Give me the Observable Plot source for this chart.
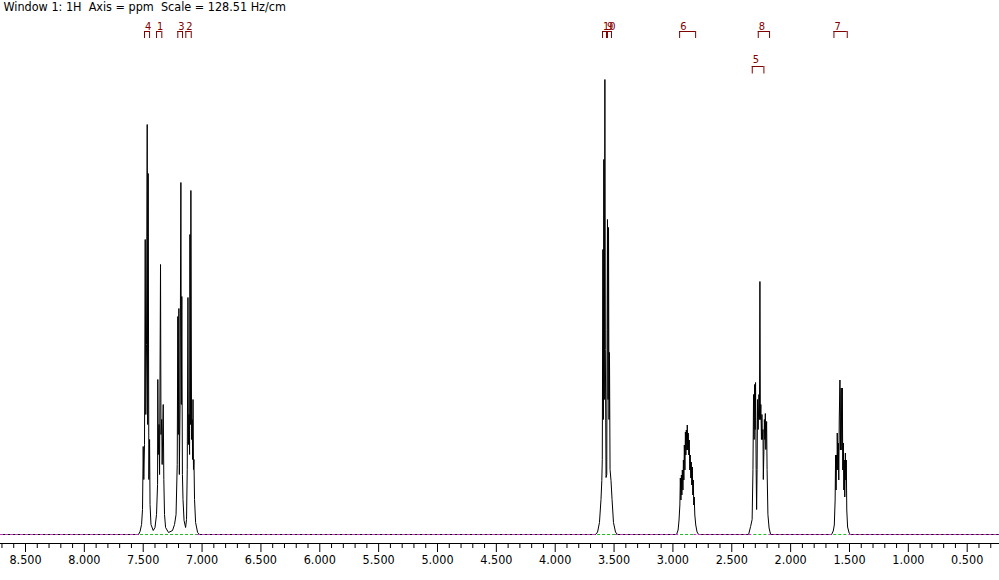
<!DOCTYPE html>
<html><head><meta charset="utf-8">
<script src="https://cdn.jsdelivr.net/npm/d3@7"></script>
<script src="https://cdn.jsdelivr.net/npm/@observablehq/plot@0.6"></script>
<style>
body{margin:0;background:#fff;}
#chart svg{display:block;}
</style></head><body><div id="chart"></div>
<script>
// ---- data ----
const title = "Window 1: 1H  Axis = ppm  Scale = 128.51 Hz/cm";
const ppmDomain = [8.7124, 0.2256];
const majorTicks = [8.5, 8.0, 7.5, 7.0, 6.5, 6.0, 5.5, 5.0, 4.5, 4.0, 3.5, 3.0, 2.5, 2.0, 1.5, 1.0, 0.5];
const tickLabels = ["8.500","8.000","7.500","7.000","6.500","6.000","5.500","5.000","4.500","4.000","3.500","3.000","2.500","2.000","1.500","1.000","0.500"];
const minorTicks = [8.7,8.6,8.4,8.3,8.2,8.1,7.9,7.8,7.7,7.6,7.4,7.3,7.2,7.1,6.9,6.8,6.7,6.6,6.4,6.3,6.2,6.1,5.9,5.8,5.7,5.6,5.4,5.3,5.2,5.1,4.9,4.8,4.7,4.6,4.4,4.3,4.2,4.1,3.9,3.8,3.7,3.6,3.4,3.3,3.2,3.1,2.9,2.8,2.7,2.6,2.4,2.3,2.2,2.1,1.9,1.8,1.7,1.6,1.4,1.3,1.2,1.1,0.9,0.8,0.7,0.6,0.4,0.3];

// spectrum vertices [ppm, intensity]
const aromatic = [
  [7.540,0],[7.527,3],[7.514,10],[7.506,25],[7.500,88],[7.495,55],[7.489,90],[7.483,295],[7.478,120],
  [7.472,190],[7.466,410],[7.462,110],[7.458,361],[7.452,55],[7.446,95],[7.442,30],[7.434,10],[7.415,4],
  [7.400,7],[7.387,20],[7.378,50],[7.376,155],[7.372,80],[7.366,110],[7.361,60],[7.353,270],[7.349,100],
  [7.343,115],[7.339,70],[7.330,130],[7.325,55],[7.319,20],[7.310,7],[7.285,2],
  [7.251,4],[7.234,10],[7.221,20],[7.211,70],[7.206,218],[7.202,100],[7.197,226],[7.193,60],[7.187,130],
  [7.180,352],[7.176,130],[7.172,238],[7.167,60],[7.162,35],[7.153,14],[7.140,7],
  [7.132,15],[7.126,65],[7.120,237],[7.116,90],[7.111,120],[7.106,80],[7.103,300],[7.099,110],[7.095,344],
  [7.089,95],[7.084,115],[7.080,75],[7.077,135],[7.073,65],[7.069,75],[7.064,35],[7.055,12],[7.038,2],[7.021,0]
];
const m358 = [
  [3.657,0],[3.640,2.5],[3.624,12],[3.611,35],[3.604,54],[3.600,75],[3.595,285],[3.591,115],[3.587,375],
  [3.583,135],[3.578,455],[3.574,185],[3.568,57],[3.562,60],[3.559,205],[3.556,315],[3.551,135],[3.547,307],
  [3.543,115],[3.539,182],[3.534,65],[3.526,54],[3.517,35],[3.505,12],[3.488,2.5],[3.471,0]
];
const m288 = [
  [2.969,0],[2.956,4.5],[2.948,14.5],[2.941,29.5],[2.937,56.5],[2.932,34.5],[2.928,59.5],[2.924,39.5],
  [2.920,64.5],[2.915,44.5],[2.911,74.5],[2.907,54.5],[2.903,89.5],[2.898,64.5],[2.894,102.5],[2.890,79.5],
  [2.886,104.5],[2.881,84.5],[2.878,109.5],[2.874,84.5],[2.870,101.5],[2.865,79.5],[2.861,94.5],[2.857,64.5],
  [2.853,79.5],[2.848,56.5],[2.844,72.5],[2.840,49.5],[2.835,67.5],[2.831,39.5],[2.827,54.5],[2.823,29.5],
  [2.819,37.5],[2.814,19.5],[2.806,9.5],[2.795,2.5],[2.782,0]
];
const m228 = [
  [2.357,0],[2.340,8],[2.327,15],[2.320,65],[2.315,140],[2.310,95],[2.306,150],[2.302,105],[2.298,152],
  [2.293,65],[2.289,25],[2.285,65],[2.281,135],[2.276,105],[2.269,140],[2.265,115],[2.261,253],[2.257,115],
  [2.253,130],[2.248,95],[2.244,120],[2.240,95],[2.235,105],[2.232,55],[2.227,85],[2.223,115],[2.219,95],
  [2.215,121],[2.211,85],[2.204,113],[2.200,65],[2.193,20],[2.183,6.5],[2.170,0]
];
const m157 = [
  [1.652,0],[1.638,3.5],[1.629,9.5],[1.622,34.5],[1.618,79.5],[1.614,44.5],[1.610,79.5],[1.606,64.5],
  [1.604,101.5],[1.599,64.5],[1.595,91.5],[1.591,54.5],[1.587,114.5],[1.581,154.5],[1.577,84.5],[1.573,139.5],
  [1.570,146.5],[1.565,84.5],[1.561,146.5],[1.557,64.5],[1.552,91.5],[1.548,44.5],[1.544,74.5],[1.540,37.5],
  [1.535,81.5],[1.531,54.5],[1.527,74.5],[1.523,24.5],[1.516,7.5],[1.503,1.5],[1.490,0]
];

// integration labels and brackets
const integralLabels = ["4","1","3","2","10","9","6","8","7","5"];
const integralFrom   = [7.489, 7.387, 7.206, 7.138, 3.598, 3.564, 2.943, 2.275, 1.632, 2.326];
const integralTo     = [7.446, 7.342, 7.166, 7.092, 3.556, 3.522, 2.807, 2.179, 1.519, 2.227];
const integralRow    = [0, 0, 0, 0, 0, 0, 0, 0, 0, 1];
// integral regions drawn as green dashes on the baseline
const integralRegions = [[7.523, 7.039], [3.640, 3.487], [2.935, 2.822], [2.312, 2.185], [1.633, 1.505]];

// ---- build ----
const spectrum = [[ppmDomain[0], 0], ...aromatic, ...m358, ...m288, ...m228, ...m157, [ppmDomain[1], 0]];
const brackets = integralLabels.map((label, i) => ({label, from: integralFrom[i], to: integralTo[i], row: integralRow[i]}));
const baseGaps = [];
{
  let start = ppmDomain[0];
  for (const [a, b] of integralRegions) { baseGaps.push([start, a]); start = b; }
  baseGaps.push([start, ppmDomain[1]]);
}

const W = 999, H = 580, baseY = 534;
const darkRed = "#800000";
const font = "'Liberation Sans Narrow', 'DejaVu Sans Condensed', 'Liberation Sans', sans-serif";

// pixel layout of bracket rows (frame top is at 0)
const rowLayout = [
  {barTop: 31, legBottom: 38, labelTop: 21.5},
  {barTop: 66, legBottom: 73.5, labelTop: 55}
];

const bracketMarks = rowLayout.flatMap((L, r) => {
  const rows = brackets.filter(d => d.row === r);
  return [
    Plot.rect(rows, {x1: "from", x2: "to", insetTop: L.barTop, insetBottom: baseY - L.barTop - 1, fill: darkRed}),
    Plot.ruleX(rows, {x: "from", insetTop: L.barTop, insetBottom: baseY - L.legBottom, stroke: darkRed}),
    Plot.ruleX(rows, {x: "to", insetTop: L.barTop, insetBottom: baseY - L.legBottom, stroke: darkRed}),
    Plot.text(rows, {x: "from", text: "label", frameAnchor: "top", lineAnchor: "top", textAnchor: "start",
      dy: L.labelTop, dx: 0.5, fill: darkRed, fontSize: 11})
  ];
});

const chart = Plot.plot({
  width: W, height: H,
  marginTop: 0, marginBottom: H - baseY, marginLeft: 0, marginRight: 0,
  style: {fontFamily: font, background: "#fff", color: "#000", fontSize: "12px"},
  x: {domain: ppmDomain, range: [0, W]},
  y: {domain: [0, baseY], axis: null},
  marks: [
    Plot.line(spectrum, {x: d => d[0], y: d => d[1], stroke: "#000", strokeWidth: 1}),
    Plot.ruleY(baseGaps, {y: 0, x1: d => d[0], x2: d => d[1], stroke: "#cc33cc", strokeDasharray: "3,2", strokeWidth: 1}),
    Plot.ruleY(integralRegions, {y: 0, x1: d => d[0], x2: d => d[1], stroke: "#22bb22", strokeDasharray: "3,2", strokeWidth: 1}),
    Plot.ruleY([0], {dy: 9, stroke: "#000"}),
    Plot.axisX(majorTicks, {tickSize: 9, dy: 9, tickPadding: 3, stroke: "#000", fill: "#000", fontSize: 12.5,
      tickFormat: d => tickLabels[majorTicks.indexOf(d)]}),
    Plot.axisX(minorTicks, {tickSize: 5, dy: 9, stroke: "#000", tickFormat: () => ""}),
    ...bracketMarks,
    Plot.text([title], {text: d => d, frameAnchor: "top-left", lineAnchor: "top", textAnchor: "start",
      dx: 3, dy: 2, fill: "#000", fontSize: 12.5})
  ]
});
document.getElementById("chart").appendChild(chart);
</script></body></html>
